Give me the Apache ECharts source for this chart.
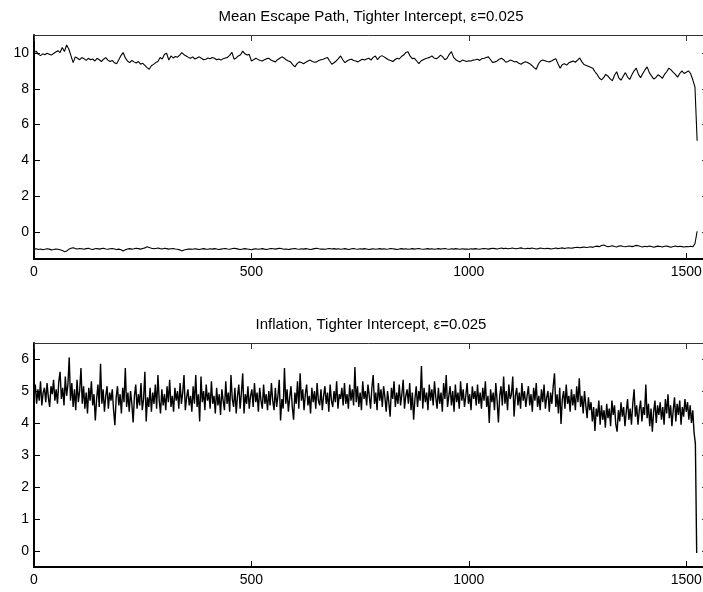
<!DOCTYPE html>
<html>
<head>
<meta charset="utf-8">
<title>Mean Escape Path and Inflation</title>
<script src="https://cdn.jsdelivr.net/npm/echarts@6/dist/echarts.min.js"></script>
<style>
  html, body { margin: 0; padding: 0; background: #fff; }
  #chart { width: 703px; height: 592px; }
</style>
</head>
<body>
<div id="chart"></div>
<script>
// Sampling steps (periods between stored points)
const pathStep = 5;
const inflStep = 3;

// Tick positions
const xTicks = [0, 500, 1000, 1500];
const yTicksPath = [0, 2, 4, 6, 8, 10];
const yTicksInfl = [0, 1, 2, 3, 4, 5, 6];

// Mean escape path, upper component (every 5 periods, t = 0 .. 1525)
const pathUpper = [
  10.00, 10.10, 9.92, 9.85, 9.95, 9.90, 9.98, 9.93, 9.88, 9.97, 10.05, 10.12, 10.02, 10.30, 10.08, 10.44, 10.22, 9.85, 9.46, 9.78,
  9.70, 9.62, 9.74, 9.68, 9.58, 9.70, 9.62, 9.66, 9.55, 9.70, 9.62, 9.52, 9.65, 9.74, 9.60, 9.52, 9.58, 9.45, 9.40, 9.62,
  9.85, 10.02, 9.72, 9.55, 9.46, 9.58, 9.50, 9.44, 9.52, 9.37, 9.42, 9.30, 9.18, 9.09, 9.28, 9.36, 9.46, 9.52, 9.74, 9.66,
  9.92, 9.98, 9.60, 9.83, 9.72, 9.80, 9.76, 9.88, 10.02, 9.90, 9.83, 9.75, 9.70, 9.78, 9.66, 9.72, 9.78, 9.70, 9.62, 9.65,
  9.72, 9.68, 9.74, 9.70, 9.62, 9.66, 9.60, 9.68, 9.72, 9.75, 9.86, 10.04, 9.65, 9.72, 9.83, 9.90, 10.10, 9.95, 9.88, 9.92,
  9.55, 9.62, 9.70, 9.64, 9.58, 9.55, 9.62, 9.68, 9.70, 9.60, 9.55, 9.50, 9.62, 9.70, 9.78, 9.72, 9.62, 9.55, 9.50, 9.35,
  9.22, 9.40, 9.50, 9.46, 9.40, 9.48, 9.55, 9.60, 9.52, 9.48, 9.50, 9.58, 9.62, 9.65, 9.70, 9.74, 9.55, 9.37, 9.45, 9.55,
  9.68, 9.83, 9.62, 9.46, 9.55, 9.62, 9.65, 9.58, 9.55, 9.50, 9.58, 9.65, 9.60, 9.66, 9.70, 9.60, 9.75, 9.83, 9.62, 9.78,
  9.85, 9.78, 9.70, 9.62, 9.58, 9.52, 9.62, 9.70, 9.66, 9.80, 9.88, 10.02, 10.07, 9.82, 9.68, 9.70, 9.55, 9.40, 9.55, 9.62,
  9.68, 9.72, 9.75, 9.83, 9.72, 9.68, 9.75, 9.88, 9.78, 9.62, 9.70, 9.92, 10.07, 9.75, 9.62, 9.55, 9.50, 9.60, 9.56, 9.52,
  9.56, 9.55, 9.60, 9.62, 9.65, 9.58, 9.68, 9.70, 9.74, 9.78, 9.62, 9.46, 9.50, 9.55, 9.65, 9.70, 9.62, 9.48, 9.52, 9.60,
  9.56, 9.50, 9.52, 9.42, 9.37, 9.45, 9.51, 9.47, 9.40, 9.30, 9.18, 9.09, 9.38, 9.55, 9.60, 9.56, 9.52, 9.50, 9.55, 9.62,
  9.68, 9.40, 9.15, 9.35, 9.40, 9.32, 9.45, 9.50, 9.55, 9.48, 9.60, 9.72, 9.50, 9.35, 9.30, 9.25, 9.20, 9.15, 8.95, 8.80,
  8.60, 8.50, 8.62, 8.80, 8.70, 8.55, 8.45, 8.75, 8.95, 8.60, 8.48, 8.70, 8.90, 8.65, 8.52, 8.78, 9.00, 9.15, 8.80, 8.62,
  8.85, 9.05, 9.22, 8.90, 8.72, 8.55, 8.62, 8.78, 8.70, 8.58, 8.80, 8.95, 9.15, 9.05, 8.92, 8.80, 8.65, 8.85, 9.00, 8.85,
  8.92, 9.00, 8.85, 8.50, 8.10, 5.10
];

// Mean escape path, lower component (every 5 periods, t = 0 .. 1525)
const pathLower = [
  -0.95, -0.93, -0.97, -0.94, -0.98, -0.96, -0.93, -0.95, -0.99, -0.97, -0.94, -0.96, -0.98, -1.02, -1.09, -1.05, -0.96, -0.90, -0.87, -0.92,
  -0.94, -0.91, -0.93, -0.96, -0.92, -0.90, -0.94, -0.97, -0.93, -0.91, -0.95, -0.92, -0.90, -0.94, -0.96, -0.93, -0.91, -0.94, -0.97, -0.95,
  -0.98, -1.05, -0.99, -0.94, -0.92, -0.95, -0.93, -0.90, -0.92, -0.95, -0.91, -0.88, -0.82, -0.86, -0.90, -0.93, -0.91, -0.89, -0.92, -0.94,
  -0.90, -0.92, -0.95, -0.93, -0.91, -0.94, -0.96, -0.99, -1.05, -1.00, -0.97, -0.95, -0.94, -0.96, -0.93, -0.95, -0.97, -0.94, -0.92, -0.95,
  -0.96, -0.93, -0.95, -0.92, -0.94, -0.97, -0.95, -0.93, -0.91, -0.94, -0.96, -0.93, -0.90, -0.92, -0.95, -0.97, -0.94, -0.92, -0.94, -0.96,
  -0.98, -0.95, -0.93, -0.96, -0.94, -0.92, -0.95, -0.97, -0.94, -0.91, -0.93, -0.95, -0.92, -0.90, -0.93, -0.96, -0.94, -0.97, -0.95, -0.93,
  -0.91, -0.94, -0.96, -0.93, -0.95, -0.92, -0.94, -0.97, -0.95, -0.92, -0.90, -0.93, -0.95, -0.94, -0.96, -0.93, -0.91, -0.94, -0.92, -0.95,
  -0.93, -0.96, -0.94, -0.92, -0.95, -0.97, -0.93, -0.91, -0.94, -0.96, -0.93, -0.95, -0.92, -0.94, -0.97, -0.95, -0.93, -0.96, -0.94, -0.92,
  -0.95, -0.93, -0.96, -0.94, -0.91, -0.93, -0.95, -0.97, -0.94, -0.92, -0.95, -0.93, -0.96, -0.94, -0.92, -0.95, -0.93, -0.91, -0.94, -0.96,
  -0.94, -0.92, -0.95, -0.93, -0.96, -0.94, -0.92, -0.95, -0.93, -0.91, -0.94, -0.96, -0.93, -0.95, -0.92, -0.94, -0.96, -0.93, -0.95, -0.94,
  -0.96, -0.93, -0.95, -0.92, -0.94, -0.96, -0.93, -0.91, -0.93, -0.95, -0.92, -0.90, -0.92, -0.94, -0.91, -0.89, -0.92, -0.90, -0.93, -0.91,
  -0.89, -0.91, -0.93, -0.90, -0.88, -0.91, -0.93, -0.90, -0.92, -0.89, -0.91, -0.94, -0.92, -0.89, -0.91, -0.93, -0.90, -0.92, -0.94, -0.91,
  -0.89, -0.92, -0.90, -0.88, -0.91, -0.89, -0.87, -0.90, -0.88, -0.86, -0.84, -0.87, -0.85, -0.83, -0.86, -0.84, -0.82, -0.85, -0.80, -0.78,
  -0.81, -0.75, -0.72, -0.78, -0.82, -0.79, -0.76, -0.80, -0.83, -0.78, -0.76, -0.80, -0.82, -0.79, -0.77, -0.81, -0.78, -0.74, -0.76, -0.80,
  -0.83, -0.79, -0.82, -0.78, -0.80, -0.84, -0.81, -0.78, -0.80, -0.83, -0.79, -0.77, -0.81, -0.84, -0.80, -0.78, -0.82, -0.79, -0.81, -0.83,
  -0.80, -0.82, -0.79, -0.82, -0.65, 0.05
];

// Inflation (every 3 periods, t = 0 .. 1524)
const inflation = [
  4.85, 5.20, 4.60, 5.05, 4.70, 5.30, 4.55, 4.95, 5.10, 4.65, 5.25, 4.80, 4.50, 5.15, 4.90, 5.35, 4.70, 5.05, 4.60, 5.30,
  5.60, 4.75, 5.10, 4.55, 5.45, 4.85, 5.20, 6.05, 4.70, 5.25, 4.50, 5.05, 4.40, 5.35, 4.65, 5.00, 5.72, 4.60, 5.15, 4.45,
  4.95, 4.30, 5.10, 4.70, 5.30, 4.55, 4.90, 4.08, 4.75, 5.20, 4.50, 5.85, 4.60, 5.05, 4.35, 4.85, 5.15, 4.45, 4.95, 4.70,
  5.05, 4.40, 3.93, 4.80, 5.15, 4.55, 4.90, 4.30, 5.10, 4.65, 5.72, 4.50, 4.95, 4.35, 5.00, 4.60, 4.02, 4.85, 5.20, 4.45,
  4.90, 4.55, 5.25, 4.40, 4.75, 5.60, 4.05, 4.80, 4.50, 5.10, 4.35, 4.95, 4.60, 5.20, 4.45, 5.50, 4.70, 4.30, 5.05, 4.55,
  4.90, 4.40, 5.15, 4.65, 5.35, 4.50, 4.85, 4.35, 5.10, 4.70, 5.00, 4.45, 5.25, 4.60, 4.95, 5.50, 4.40, 4.80, 5.05, 4.55,
  4.85, 4.35, 5.15, 4.60, 5.50, 4.50, 4.90, 4.05, 5.45, 4.65, 5.00, 4.40, 5.20, 4.70, 4.95, 4.45, 5.30, 4.60, 4.85, 4.30,
  5.10, 4.55, 4.90, 4.25, 5.05, 4.70, 4.40, 5.30, 4.60, 4.95, 4.35, 5.50, 4.75, 4.50, 5.10, 4.30, 4.85, 5.20, 4.45, 4.95,
  5.55, 4.30, 4.90, 4.60, 5.15, 4.45, 4.85, 5.05, 4.50, 5.25, 4.65, 4.95, 4.35, 5.10, 4.70, 4.45, 5.20, 4.60, 4.90, 4.40,
  5.00, 4.55, 5.25, 4.70, 4.40, 5.10, 4.50, 4.85, 5.35, 4.08, 4.75, 4.45, 5.72, 4.60, 5.05, 4.35, 4.80, 5.15, 4.50, 4.10,
  4.95, 4.60, 5.30, 4.45, 5.55, 4.70, 5.05, 4.40, 4.90, 5.20, 4.55, 4.85, 4.30, 5.10, 4.65, 5.00, 4.45, 5.25, 4.70, 4.55,
  5.05, 4.40, 4.85, 5.15, 4.60, 4.95, 4.35, 5.20, 4.70, 4.50, 5.00, 4.65, 5.30, 4.45, 4.90, 4.75, 5.10, 4.55, 5.25, 4.60,
  4.90, 4.45, 5.20, 4.70, 5.05, 4.55, 5.75, 4.65, 5.15, 4.50, 4.95, 4.40, 5.30, 4.75, 5.00, 4.55, 5.20, 4.85, 4.45, 5.10,
  5.50, 4.60, 4.95, 4.40, 5.25, 4.70, 5.05, 4.50, 5.15, 4.80, 4.35, 5.00, 4.65, 4.20, 5.10, 4.75, 5.30, 4.50, 4.95, 4.60,
  5.20, 4.55, 4.90, 5.35, 4.45, 4.85, 5.05, 4.60, 5.25, 4.40, 4.95, 4.10, 4.75, 5.15, 4.50, 5.00, 4.70, 5.78, 4.45, 5.10,
  4.65, 4.95, 4.40, 5.20, 4.70, 5.05, 4.55, 5.30, 4.80, 4.45, 5.10, 4.60, 4.95, 4.35, 5.25, 4.75, 5.50, 4.50, 4.85, 5.15,
  4.55, 5.00, 4.35, 5.20, 4.65, 4.95, 4.45, 5.30, 4.70, 5.05, 4.50, 4.85, 5.25, 4.60, 4.90, 4.40, 5.15, 4.75, 5.00, 4.55,
  5.20, 4.60, 4.95, 4.45, 5.10, 4.70, 5.30, 4.50, 4.85, 4.00, 5.05, 4.65, 4.95, 4.40, 5.25, 4.70, 4.02, 4.85, 5.15, 4.55,
  5.45, 4.60, 5.00, 4.40, 5.20, 4.75, 4.90, 5.45, 4.20, 4.85, 5.10, 4.55, 4.95, 4.45, 5.25, 4.70, 5.00, 4.50, 4.85, 5.15,
  4.55, 4.90, 4.35, 5.10, 4.70, 5.25, 4.50, 4.85, 4.40, 5.05, 4.65, 5.20, 4.45, 4.80, 5.00, 4.35, 4.95, 4.60, 5.15, 5.55,
  4.50, 4.90, 4.30, 5.10, 3.97, 4.75, 5.00, 4.45, 5.20, 4.60, 4.85, 4.35, 5.05, 4.55, 4.90, 4.40, 5.15, 4.65, 5.40, 4.50,
  4.85, 4.30, 5.00, 4.55, 4.15, 4.80, 4.40, 4.65, 4.05, 4.50, 3.75, 4.45, 4.20, 4.70, 3.95, 4.55, 4.10, 4.40, 3.85, 4.60,
  4.15, 4.45, 3.90, 4.70, 4.25, 4.55, 3.95, 3.73, 4.40, 4.05, 4.65, 4.20, 4.50, 3.90, 4.35, 4.75, 4.10, 4.45, 3.95, 4.60,
  5.05, 4.20, 4.55, 3.95, 4.40, 4.70, 4.05, 4.50, 4.25, 5.20, 4.15, 4.60, 3.90, 4.45, 3.73, 4.35, 4.70, 4.00, 4.55, 4.25,
  4.65, 4.10, 4.50, 3.95, 4.75, 4.30, 4.90, 4.15, 4.55, 3.90, 4.40, 4.80, 4.05, 4.60, 4.25, 4.70, 3.95, 4.50, 4.20, 4.75,
  4.35, 4.65, 4.10, 4.55, 4.00, 4.40, 3.70, 3.35, -0.06
];

const font = '"Liberation Sans", Arial, Helvetica, sans-serif';
const toPairs = (vals, step) => vals.map((v, i) => [i * step, v]);
const plain = (v) => String(v);

// Axis builders: bottom/left carry labels, top/right only inward ticks (boxed axes)
function xAxisPair(grid) {
  return [
    {
      gridIndex: grid, type: 'value', min: 0, max: 1550, position: 'bottom',
      axisLine: { show: true, onZero: false, lineStyle: { color: '#000', width: 2 } },
      axisTick: { show: true, inside: true, length: 6, customValues: xTicks, lineStyle: { color: '#000', width: 1 } },
      axisLabel: { show: true, customValues: xTicks, formatter: plain, margin: 6, fontSize: 14, color: '#000', fontFamily: font },
      splitLine: { show: false }
    },
    {
      gridIndex: grid, type: 'value', min: 0, max: 1550, position: 'top',
      axisLine: { show: true, onZero: false, lineStyle: { color: '#333', width: 1 } },
      axisTick: { show: true, inside: true, length: 6, customValues: xTicks, lineStyle: { color: '#333', width: 1 } },
      axisLabel: { show: false },
      splitLine: { show: false }
    }
  ];
}

function yAxisPair(grid, min, max, ticks) {
  return [
    {
      gridIndex: grid, type: 'value', min: min, max: max, position: 'left',
      axisLine: { show: true, onZero: false, lineStyle: { color: '#000', width: 2 } },
      axisTick: { show: true, inside: true, length: 6, customValues: ticks, lineStyle: { color: '#000', width: 1 } },
      axisLabel: { show: true, customValues: ticks, formatter: plain, margin: 5, fontSize: 14, color: '#000', fontFamily: font },
      splitLine: { show: false }
    },
    {
      gridIndex: grid, type: 'value', min: min, max: max, position: 'right',
      axisLine: { show: true, onZero: false, lineStyle: { color: '#333', width: 1 } },
      axisTick: { show: true, inside: true, length: 6, customValues: ticks, lineStyle: { color: '#333', width: 1 } },
      axisLabel: { show: false },
      splitLine: { show: false }
    }
  ];
}

const option = {
  animation: false,
  backgroundColor: '#fff',
  title: [
    {
      text: 'Mean Escape Path, Tighter Intercept, ε=0.025',
      left: 371, top: 9, textAlign: 'center', padding: 0,
      textStyle: { fontSize: 15, fontWeight: 'normal', color: '#000', fontFamily: font }
    },
    {
      text: 'Inflation, Tighter Intercept, ε=0.025',
      left: 371, top: 317, textAlign: 'center', padding: 0,
      textStyle: { fontSize: 15, fontWeight: 'normal', color: '#000', fontFamily: font }
    }
  ],
  // The plot boxes run a few pixels past the right edge of the canvas
  grid: [
    { left: 34, width: 674, top: 35, height: 224, outerBoundsMode: 'none', containLabel: false },
    { left: 34, width: 674, top: 343, height: 224, outerBoundsMode: 'none', containLabel: false }
  ],
  xAxis: [...xAxisPair(0), ...xAxisPair(1)],
  yAxis: [...yAxisPair(0, -1.5, 11, yTicksPath), ...yAxisPair(1, -0.5, 6.5, yTicksInfl)],
  series: [
    {
      name: 'pathUpper', type: 'line', xAxisIndex: 0, yAxisIndex: 0,
      data: toPairs(pathUpper, pathStep), showSymbol: false,
      lineStyle: { color: '#000', width: 1.1 }
    },
    {
      name: 'pathLower', type: 'line', xAxisIndex: 0, yAxisIndex: 0,
      data: toPairs(pathLower, pathStep), showSymbol: false,
      lineStyle: { color: '#000', width: 1.1 }
    },
    {
      name: 'inflation', type: 'line', xAxisIndex: 2, yAxisIndex: 2,
      data: toPairs(inflation, inflStep), showSymbol: false,
      lineStyle: { color: '#000', width: 1.4 }
    }
  ]
};

const chart = echarts.init(document.getElementById('chart'), null, { renderer: 'canvas' });
chart.setOption(option);
</script>
</body>
</html>
